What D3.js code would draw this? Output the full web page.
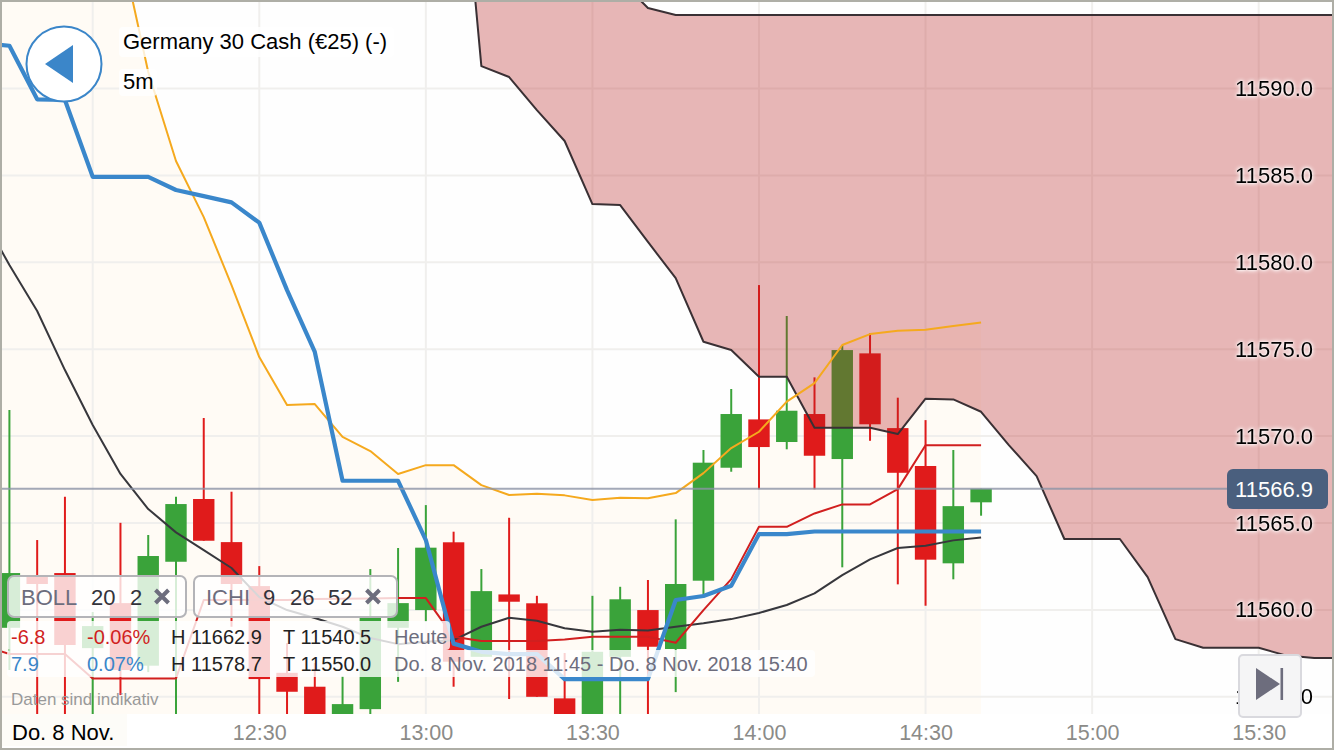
<!DOCTYPE html>
<html><head><meta charset="utf-8">
<script src="https://cdn.jsdelivr.net/npm/d3@7"></script>
<style>
html,body{margin:0;padding:0;background:#fff;overflow:hidden}
svg{display:block;font-family:"Liberation Sans",Arial,sans-serif}
</style></head><body><div id="c"></div>
<script>
const firstCandle = "2018-11-08T11:45:00Z";
const lineStart = "2018-11-08T11:40:00Z";
const cloudStart = "2018-11-08T13:05:00Z";
const xTickLabels = ["12:30","13:00","13:30","14:00","14:30","15:00","15:30"];
const yTicks = [11555,11560,11565,11570,11575,11580,11585,11590];
const lastPrice = 11566.9;

const opens  = [11558.97,11561.91,11562.12,11557.80,11560.39,11556.79,11562.77,11566.38,11563.90,11561.37,11556.38,11555.58,11553.09,11554.29,11558.97,11559.99,11563.89,11557.30,11560.89,11560.38,11554.91,11553.09,11557.30,11559.99,11557.75,11561.68,11568.18,11570.96,11569.66,11571.27,11568.68,11574.76,11570.46,11568.28,11562.68,11566.19];
const highs  = [11571.50,11564.02,11566.51,11559.88,11565.01,11564.31,11566.51,11571.04,11566.80,11562.52,11558.09,11556.94,11556.19,11562.35,11563.56,11566.03,11564.50,11562.35,11565.30,11560.81,11557.52,11560.81,11561.33,11561.72,11565.21,11569.20,11572.71,11578.69,11576.91,11573.38,11575.24,11575.91,11572.21,11570.92,11569.20,11566.97];
const lows   = [11556.54,11553.09,11553.09,11553.09,11555.10,11556.42,11553.09,11563.98,11559.03,11553.09,11553.09,11552.22,11552.80,11553.09,11555.86,11559.32,11555.58,11557.30,11554.87,11555.00,11552.80,11552.80,11553.09,11553.09,11555.27,11560.85,11567.95,11566.94,11569.24,11566.94,11562.45,11569.73,11561.47,11560.24,11561.76,11565.42];
const closes = [11562.12,11561.49,11557.98,11559.07,11556.54,11563.10,11566.09,11563.98,11561.49,11556.02,11555.29,11552.51,11554.58,11559.59,11560.39,11563.58,11557.02,11561.08,11560.47,11555.00,11553.09,11557.59,11560.61,11557.88,11561.49,11568.47,11571.27,11569.37,11571.46,11568.87,11574.95,11570.68,11567.89,11562.89,11565.97,11566.97];

const blueLine = [11592.62,11592.46,11589.38,11589.34,11584.92,11584.92,11584.92,11584.16,11583.81,11583.45,11582.28,11578.40,11574.84,11567.43,11567.43,11567.43,11564.02,11558.06,11557.59,11557.46,11557.46,11556.02,11556.02,11556.02,11556.02,11560.57,11560.80,11561.39,11564.36,11564.36,11564.51,11564.51,11564.51,11564.51,11564.51,11564.51,11564.51];
const blackLine = [11582.72,11579.84,11577.20,11573.80,11570.64,11567.82,11565.80,11564.46,11563.44,11562.41,11560.74,11559.99,11559.53,11559.03,11558.38,11558.03,11558.17,11558.26,11559.03,11559.55,11559.38,11558.94,11558.74,11558.86,11558.82,11559.03,11559.23,11559.47,11559.82,11560.28,11560.95,11562.00,11562.91,11563.56,11563.69,11564.00,11564.17];
const redLine = [11557.98,11557.46,11557.46,11557.46,11556.06,11556.06,11556.06,11556.06,11560.57,11560.57,11560.57,11560.57,11560.62,11560.64,11560.66,11560.68,11560.68,11558.45,11558.21,11558.21,11558.21,11558.30,11558.45,11558.45,11558.45,11558.11,11559.99,11561.77,11564.78,11564.78,11565.55,11566.07,11566.07,11566.95,11569.47,11569.47,11569.47];
const orangeLine = [11623.86,11618.11,11612.35,11606.60,11602.00,11598.25,11590.95,11585.83,11582.60,11578.69,11574.55,11571.79,11571.84,11569.95,11569.14,11567.82,11568.33,11568.33,11567.18,11566.61,11566.68,11566.59,11566.32,11566.45,11566.42,11566.72,11567.87,11569.31,11570.25,11571.98,11573.05,11575.24,11575.87,11576.06,11576.12,11576.33,11576.54];

const cloudUpper = [11625,11620,11615,11610,11605,11600,11596.24,11594.63,11594.23,11594.23,11594.23,11594.23,11594.23,11594.23,11594.23,11594.23,11594.23,11594.23,11594.23,11594.23,11594.23,11594.23,11594.23,11594.23,11594.23,11594.23,11594.23,11594.23,11594.23,11594.23,11594.23,11594.23,11594.23];
const cloudLower = [11608.61,11591.29,11590.66,11588.76,11586.98,11583.35,11583.29,11581.17,11579.09,11575.43,11574.95,11573.41,11573.41,11570.48,11570.48,11570.48,11570.12,11572.15,11572.11,11571.40,11569.48,11567.70,11564.08,11564.08,11564.08,11561.89,11558.32,11557.82,11557.82,11557.82,11557.37,11557.23,11557.23];

const W=1334,H=750,plotBottom=714;
const FIVE=5*60000;
const x=d3.scaleUtc().domain([new Date("2018-11-08T12:00:00Z"),new Date("2018-11-08T15:30:00Z")]).range([92.7,1258.7]);
const y=d3.scaleLinear().domain([11590,11555]).range([88.5,696.8]);
const tAt=(start,i)=>new Date(new Date(start).getTime()+i*FIVE);

const svg=d3.select("#c").append("svg").attr("width",W).attr("height",H);
svg.append("defs").append("clipPath").attr("id","plot").append("rect").attr("x",0).attr("y",0).attr("width",W).attr("height",plotBottom);
svg.append("rect").attr("width",W).attr("height",H).attr("fill","#fefefe");
const g=svg.append("g").attr("clip-path","url(#plot)");

// cream area below the upper line
g.append("path").datum(orangeLine).attr("fill","#fffbf5")
 .attr("d",d3.area().x((d,i)=>x(tAt(lineStart,i))).y0(plotBottom).y1(d=>y(d)));

// grid
const gridX=d3.range(8).map(i=>new Date(x.domain()[0].getTime()+i*6*FIVE));
g.append("g").selectAll("line").data(gridX).join("line")
 .attr("x1",d=>x(d)).attr("x2",d=>x(d)).attr("y1",0).attr("y2",plotBottom)
 .attr("stroke","#f0efed").attr("stroke-width",2);
g.append("g").selectAll("line").data(yTicks).join("line")
 .attr("x1",0).attr("x2",W).attr("y1",d=>y(d)).attr("y2",d=>y(d))
 .attr("stroke","#f0efed").attr("stroke-width",2);

// candles
const idx=d3.range(opens.length);
const isUp=i=>closes[i]>=opens[i];
const green="#3aa33a",red="#e01b1b";
const cg=g.append("g");
cg.selectAll("line").data(idx).join("line")
 .attr("x1",i=>x(tAt(firstCandle,i))).attr("x2",i=>x(tAt(firstCandle,i)))
 .attr("y1",i=>y(highs[i])).attr("y2",i=>y(lows[i]))
 .attr("stroke",i=>isUp(i)?green:red).attr("stroke-width",2);
cg.selectAll("rect").data(idx).join("rect")
 .attr("x",i=>x(tAt(firstCandle,i))-10.7).attr("width",21.4)
 .attr("y",i=>y(Math.max(opens[i],closes[i])))
 .attr("height",i=>Math.abs(y(opens[i])-y(closes[i])))
 .attr("fill",i=>isUp(i)?green:red);

// cloud
const cx=(d,i)=>x(tAt(cloudStart,i));
g.append("path").datum(cloudUpper).attr("fill","rgb(185,31,31)").attr("fill-opacity",0.32)
 .attr("d",d3.area().x(cx).y0((d,i)=>y(cloudLower[i])).y1(d=>y(d)));

// lines
const lineGen=d3.line().x((d,i)=>x(tAt(lineStart,i))).y(d=>y(d));
const cloudLine=d3.line().x(cx).y(d=>y(d));
const stroke=(data,gen,color,w)=>g.append("path").datum(data).attr("fill","none").attr("stroke",color).attr("stroke-width",w).attr("stroke-linejoin","round").attr("d",gen);
stroke(cloudUpper,cloudLine,"#3a3034",2);
stroke(cloudLower,cloudLine,"#3a3034",2);
stroke(orangeLine,lineGen,"#f5a91e",2);
stroke(blackLine,lineGen,"#37373c",2);
stroke(redLine,lineGen,"#d11f1f",2);
stroke(blueLine,lineGen,"#3a87cb",4.2);

// last-price line, at the last candle's close
const lastY=y(closes[closes.length-1]);
svg.append("line").attr("x1",2).attr("x2",1228).attr("y1",lastY).attr("y2",lastY).attr("stroke","#8c93a6").attr("stroke-opacity",0.8).attr("stroke-width",2);

// y axis
const yAxis=d3.axisLeft(y).tickValues(yTicks).tickFormat(d3.format(".1f")).tickSize(0);
const yG=svg.append("g").attr("transform","translate(1313,0)").call(yAxis);
yG.select(".domain").remove();
yG.selectAll("text").attr("x",0).attr("font-size",22).attr("font-family","'Liberation Sans',Arial,sans-serif").attr("fill","#000").style("filter","drop-shadow(0 0 2px #fff) drop-shadow(0 0 1px #fff)");

svg.append("rect").attr("x",1227).attr("y",469).attr("width",101).attr("height",40).attr("rx",6).attr("fill","#4a5f7e");
svg.append("text").attr("x",1313).attr("y",lastY+8).attr("text-anchor","end").attr("font-size",22).attr("fill","#fff").text(d3.format(".1f")(lastPrice));

// x band
svg.append("rect").attr("x",0).attr("y",plotBottom).attr("width",W).attr("height",H-plotBottom).attr("fill","#fff");
const xAxis=d3.axisBottom(x).tickValues(xTickLabels.map(s=>new Date("2018-11-08T"+s+":00Z"))).tickFormat(d3.utcFormat("%H:%M")).tickSize(0);
const xG=svg.append("g").attr("transform","translate(0,"+plotBottom+")").call(xAxis);
xG.select(".domain").remove();
xG.selectAll("text").attr("y",10.5).attr("font-size",21.5).attr("font-family","'Liberation Sans',Arial,sans-serif").attr("fill","#8b8b88");

svg.append("rect").attr("x",2).attr("y",714).attr("width",125).attr("height",32).attr("fill","#fdfcf8");
svg.append("text").attr("x",12).attr("y",740).attr("font-size",22).attr("fill","#000").text("Do. 8 Nov.");

// overlays
const panel=(px,py,w,h)=>svg.append("rect").attr("x",px).attr("y",py).attr("width",w).attr("height",h).attr("rx",4).attr("fill","#fff").attr("fill-opacity",0.8);
const label=(t,px,py,size,color,anchor)=>svg.append("text").attr("x",px).attr("y",py).attr("font-size",size).attr("fill",color).attr("text-anchor",anchor||"start").text(t);

panel(119,27,275,30);
panel(119,69,38,27);
label("Germany 30 Cash (€25) (-)",123,49,22,"#000");
label("5m",123,89,22,"#000");

svg.append("circle").attr("cx",64).attr("cy",64).attr("r",37.5).attr("fill","#fff").attr("stroke","#3b86c9").attr("stroke-width",2);
svg.append("path").attr("d",d3.line()([[45,64],[73,45],[73,83]])+"Z").attr("fill","#3b86c9");

const gray="#6d6d7d";
const chip=(px,w)=>svg.append("rect").attr("x",px).attr("y",576).attr("width",w).attr("height",41).attr("rx",6).attr("fill","#fff").attr("fill-opacity",0.8).attr("stroke","#b4b4b8").attr("stroke-width",2);
chip(8,178);chip(194,203);
label("BOLL",21,604.5,22,gray);
label("20",91,604.5,22,"#33333b");
label("2",130,604.5,22,"#33333b");
label("ICHI",206,604.5,22,gray);
label("9",263,604.5,22,"#33333b");
label("26",290,604.5,22,"#33333b");
label("52",328,604.5,22,"#33333b");
const cross=(cx0)=>svg.append("path").attr("d",`M${cx0-6.5},${590}L${cx0+6.5},${603}M${cx0+6.5},${590}L${cx0-6.5},${603}`).attr("stroke",gray).attr("stroke-width",4);
cross(162);cross(373);

panel(7,621,443,29);
panel(7,650,808,27);
label("-6.8",11,643.5,20,"#d11f1f");
label("-0.06%",87,643.5,20,"#d11f1f");
label("H 11662.9",171,643.5,20,"#222");
label("T 11540.5",283,643.5,20,"#222");
label("Heute",394,643.5,20,gray);
label("7.9",11,671,20,"#3b86c9");
label("0.07%",87,671,20,"#3b86c9");
label("H 11578.7",171,671,20,"#222");
label("T 11550.0",283,671,20,"#222");
label("Do. 8 Nov. 2018 11:45 - Do. 8 Nov. 2018 15:40",394,671,20,gray);
label("Daten sind indikativ",11,705,17,"#999");

svg.append("rect").attr("x",1239).attr("y",655).attr("width",62).attr("height",62).attr("rx",4).attr("fill","#f5f5f6").attr("stroke","#d9d9de").attr("stroke-width",2);
svg.append("path").attr("d",d3.line()([[1256,668],[1280,684],[1256,700]])+"Z").attr("fill",gray);
svg.append("rect").attr("x",1280.5).attr("y",668).attr("width",2.6).attr("height",32).attr("fill",gray);

// frame
svg.append("rect").attr("x",1).attr("y",1).attr("width",W-2).attr("height",H-2).attr("fill","none").attr("stroke","#aeaea6").attr("stroke-width",2);
</script></body></html>
